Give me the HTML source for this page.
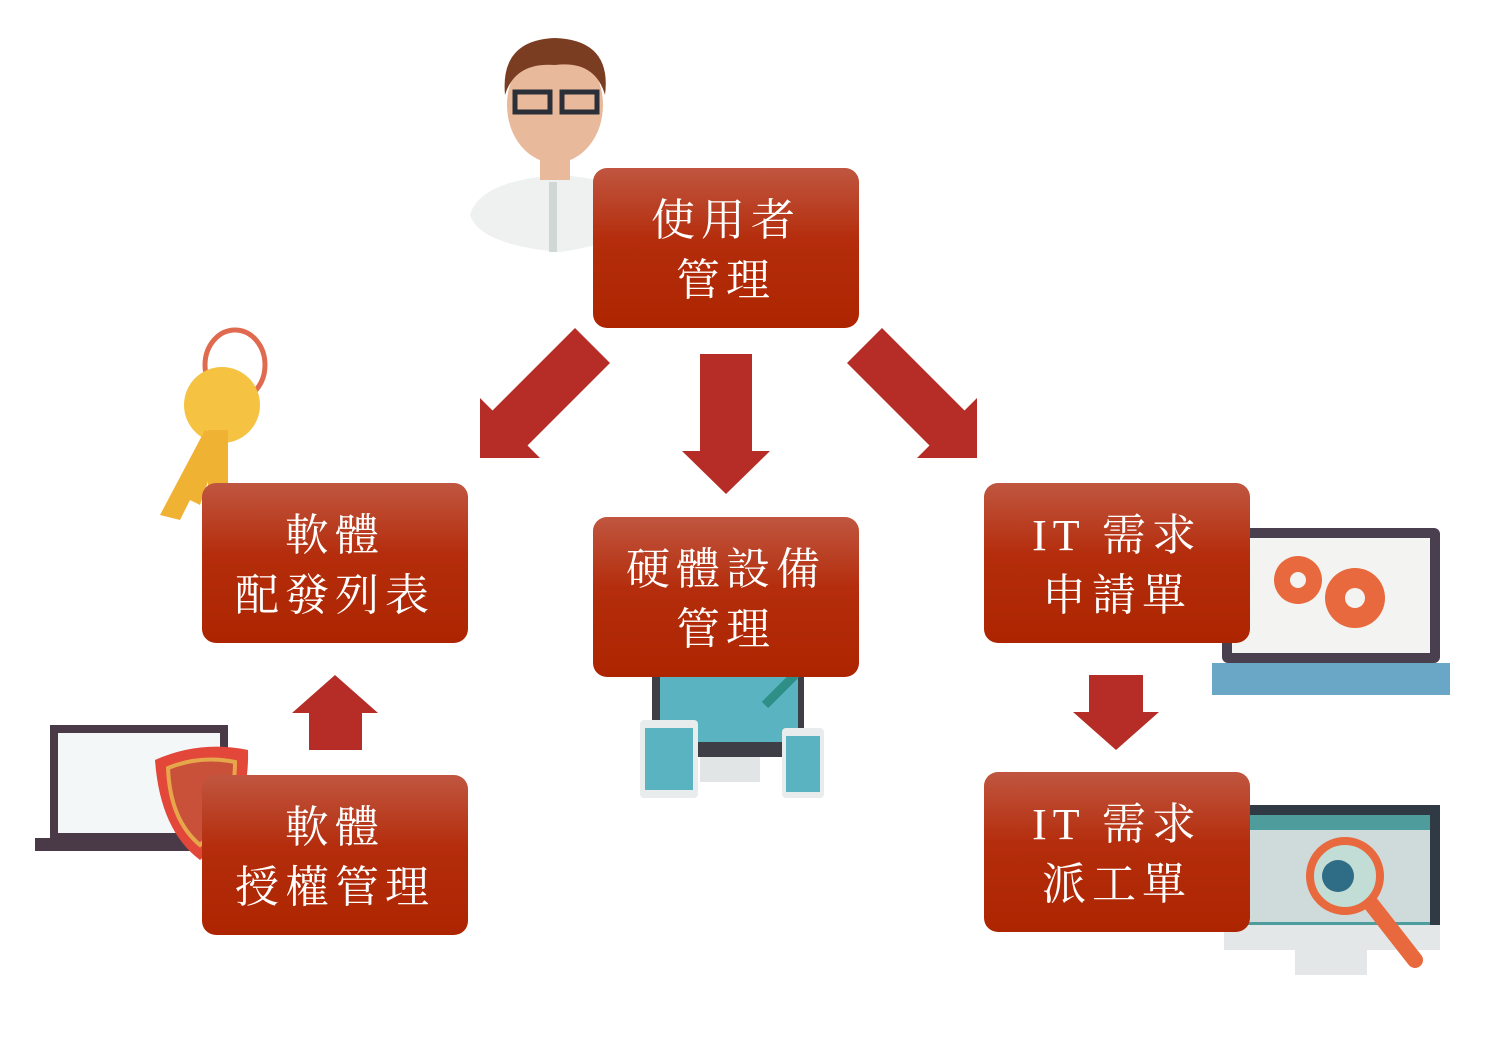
<!DOCTYPE html>
<html><head><meta charset="utf-8"><style>
body{margin:0;width:1506px;height:1052px;background:#fff;overflow:hidden;position:relative}
.b{position:absolute;width:266px;height:160px;border-radius:14px;background:linear-gradient(#c05640,#b42d0c 45%,#ad2500);color:#fff;font-family:"Liberation Serif","Noto Serif CJK SC",serif;font-size:44px;line-height:60px;text-align:center;display:flex;align-items:center;justify-content:center;letter-spacing:6px;padding-top:6px;box-sizing:border-box}
svg{position:absolute;left:0;top:0}
</style></head><body>
<svg width="1506" height="1052">
<!-- person -->
<path d="M470 215 Q480 180 560 175 Q630 180 645 210 Q640 240 560 252 Q480 245 470 215Z" fill="#eef1ef"/>
<rect x="549" y="182" width="8" height="70" fill="#cfd8d4"/>
<ellipse cx="555" cy="105" rx="48" ry="58" fill="#e8b99a"/>
<rect x="540" y="150" width="30" height="30" fill="#e8b99a"/>
<path d="M505 95 Q500 40 555 38 Q612 40 605 95 Q595 60 555 65 Q515 62 505 95Z" fill="#7a3d22"/>
<rect x="515" y="92" width="35" height="20" fill="none" stroke="#2b3038" stroke-width="5"/>
<rect x="562" y="92" width="35" height="20" fill="none" stroke="#2b3038" stroke-width="5"/>
<!-- key -->
<ellipse cx="235" cy="365" rx="30" ry="35" fill="none" stroke="#e06a50" stroke-width="5"/>
<circle cx="222" cy="405" r="38" fill="#f5c242"/>
<path d="M205 430 L160 515 L180 520 L190 500 L200 505 L222 440Z" fill="#f0b232"/>
<rect x="208" y="430" width="20" height="92" fill="#f0b232"/>
<!-- arrows -->
<g fill="#b52d26">
<polygon points="575,328 610,363 527.5,445.5 540,458 480,458 480,398 492.5,410.5"/>
<polygon points="700,354 752,354 752,451 770,451 726,494 682,451 700,451"/>
<polygon points="882,328 847,363 929.5,445.5 917,458 977,458 977,398 964.5,410.5"/>
<polygon points="309,750 362,750 362,713 378,713 335,675 292,713 309,713"/>
<polygon points="1089,675 1143,675 1143,712 1159,712 1116,750 1073,712 1089,712"/>
</g>
<!-- left laptop -->
<rect x="50" y="725" width="178" height="115" fill="#4a3a48"/>
<rect x="58" y="733" width="162" height="100" fill="#f4f7f8"/>
<rect x="35" y="838" width="205" height="13" fill="#4a3a48"/>
<path d="M155 760 Q200 740 248 750 Q250 820 200 860 Q160 830 155 760Z" fill="#e2473a"/>
<path d="M168 768 Q200 755 235 762 Q235 815 200 845 Q170 820 168 768Z" fill="#c9513a" stroke="#e6a64a" stroke-width="4"/>
<!-- hardware -->
<rect x="652" y="662" width="152" height="95" fill="#3e3e46"/>
<rect x="660" y="670" width="138" height="72" fill="#5ab3c1"/>
<rect x="700" y="757" width="60" height="25" fill="#e2e5e5"/>
<rect x="640" y="720" width="58" height="78" rx="4" fill="#e8ecec"/>
<rect x="645" y="728" width="48" height="62" fill="#5ab3c1"/>
<rect x="782" y="728" width="42" height="70" rx="4" fill="#e8ecec"/>
<rect x="786" y="736" width="34" height="56" fill="#5ab3c1"/>
<line x1="765" y1="705" x2="825" y2="645" stroke="#2e8f86" stroke-width="9"/>
<!-- right laptop -->
<rect x="1222" y="528" width="218" height="135" rx="6" fill="#4a3f4f"/>
<rect x="1232" y="538" width="198" height="115" fill="#f3f4f2"/>
<path d="M1212 663 L1450 663 L1450 695 L1212 695Z" fill="#6aa6c6"/>
<circle cx="1298" cy="580" r="24" fill="#e8693d"/><circle cx="1298" cy="580" r="8" fill="#f3f4f2"/>
<circle cx="1355" cy="598" r="30" fill="#e8693d"/><circle cx="1355" cy="598" r="10" fill="#f3f4f2"/>
<!-- monitor -->
<rect x="1224" y="805" width="216" height="145" fill="#2f3a44"/>
<rect x="1234" y="815" width="196" height="125" fill="#4e9c9c"/>
<rect x="1234" y="830" width="196" height="92" fill="#cfdada"/>
<rect x="1224" y="925" width="216" height="25" fill="#e4e7e7"/>
<rect x="1295" y="950" width="72" height="25" fill="#e4e7e7"/>
<circle cx="1345" cy="876" r="35" fill="#c2ddd6" stroke="#e8693d" stroke-width="8"/>
<circle cx="1338" cy="876" r="16" fill="#2f6c86"/>
<line x1="1372" y1="905" x2="1415" y2="960" stroke="#e8693d" stroke-width="16" stroke-linecap="round"/>
</svg>
<div class="b" style="left:593px;top:168px">使用者<br>管理</div>
<div class="b" style="left:202px;top:483px">軟體<br>配發列表</div>
<div class="b" style="left:593px;top:517px">硬體設備<br>管理</div>
<div class="b" style="left:984px;top:483px">IT 需求<br>申請單</div>
<div class="b" style="left:202px;top:775px">軟體<br>授權管理</div>
<div class="b" style="left:984px;top:772px">IT 需求<br>派工單</div>
</body></html>
